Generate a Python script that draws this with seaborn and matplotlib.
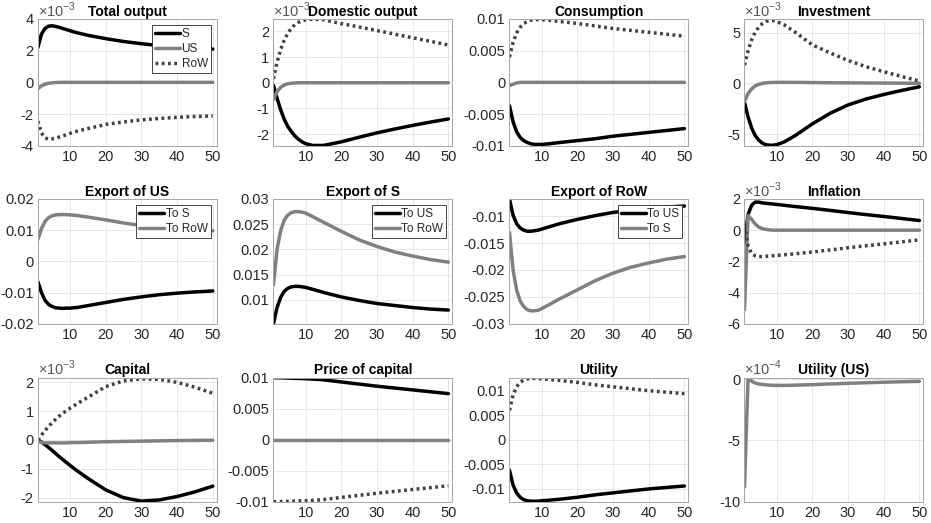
import matplotlib
matplotlib.use("Agg")
import matplotlib.pyplot as plt
import seaborn as sns
import numpy as np

# ---------------- data ----------------
T = [1, 2, 3, 4, 5, 6, 7, 8, 9, 10, 12, 15, 20, 25, 30, 35, 40, 45, 50]

# Total output (x1e-3)
tot_S = [2.2, 3.05, 3.4, 3.55, 3.57, 3.53, 3.47, 3.4, 3.33, 3.26, 3.13, 2.97, 2.76, 2.58, 2.44, 2.32, 2.22, 2.15, 2.1]
tot_US = [-0.4, -0.22, -0.12, -0.06, -0.03, -0.01, 0, 0, 0, 0, 0, 0, 0, 0, 0, 0, 0, 0, 0]
tot_RoW = [-2.45, -3.2, -3.5, -3.6, -3.57, -3.52, -3.45, -3.38, -3.3, -3.22, -3.08, -2.92, -2.66, -2.5, -2.37, -2.28, -2.21, -2.16, -2.12]

# Domestic output (x1e-3)
dom_S = [-0.1, -0.6, -1.05, -1.42, -1.7, -1.9, -2.07, -2.2, -2.3, -2.37, -2.44, -2.44, -2.3, -2.12, -1.95, -1.8, -1.66, -1.53, -1.41]
dom_US = [-0.65, -0.35, -0.18, -0.09, -0.04, -0.02, -0.01, 0, 0, 0, 0, 0, 0, 0, 0, 0, 0, 0, 0]
dom_RoW = [0.15, 0.8, 1.28, 1.65, 1.92, 2.12, 2.26, 2.35, 2.41, 2.45, 2.47, 2.45, 2.3, 2.17, 2.03, 1.89, 1.75, 1.61, 1.47]

# Consumption
con_S = [-0.0037, -0.0062, -0.0078, -0.0087, -0.0092, -0.0095, -0.0097, -0.0098, -0.0098, -0.0098, -0.0097, -0.0095, -0.0092, -0.0089, -0.0085, -0.0082, -0.0079, -0.0076, -0.0073]
con_US = [-0.0005, -0.0003, -0.0001, 0, 0, 0, 0, 0, 0, 0, 0, 0, 0, 0, 0, 0, 0, 0, 0]
con_RoW = [0.004, 0.0063, 0.0078, 0.0087, 0.0093, 0.0096, 0.0098, 0.0099, 0.0099, 0.0099, 0.0098, 0.0096, 0.0093, 0.0089, 0.0085, 0.0082, 0.0079, 0.0076, 0.0073]

# Investment (x1e-3)
inv_S = [-1.9, -3.3, -4.4, -5.15, -5.6, -5.9, -6.05, -6.1, -6.1, -6.05, -5.8, -5.2, -4.0, -2.95, -2.13, -1.55, -1.1, -0.7, -0.34]
inv_US = [-1.8, -1.0, -0.55, -0.25, -0.1, 0.0, 0.05, 0.08, 0.09, 0.1, 0.1, 0.1, 0.08, 0.06, 0.05, 0.04, 0.03, 0.02, 0.01]
inv_RoW = [1.8, 3.2, 4.3, 5.05, 5.55, 5.9, 6.1, 6.2, 6.2, 6.1, 5.8, 5.1, 3.8, 3.0, 2.26, 1.65, 1.15, 0.68, 0.24]

# Export of US
exUS_toS = [-0.0065, -0.010, -0.0125, -0.0138, -0.0145, -0.0149, -0.015, -0.0151, -0.015, -0.015, -0.0148, -0.0142, -0.0132, -0.0122, -0.0114, -0.0107, -0.0102, -0.0098, -0.0095]
exUS_toRoW = [0.007, 0.0105, 0.0128, 0.014, 0.0146, 0.0149, 0.015, 0.015, 0.015, 0.0149, 0.0147, 0.0142, 0.0133, 0.0123, 0.0115, 0.0108, 0.0104, 0.0101, 0.0098]

# Export of S
exS_toUS = [0.0053, 0.0085, 0.0105, 0.0117, 0.0123, 0.0126, 0.0127, 0.0127, 0.0126, 0.0125, 0.0121, 0.0115, 0.0106, 0.0099, 0.0093, 0.0089, 0.0085, 0.0082, 0.008]
exS_toRoW = [0.013, 0.020, 0.0237, 0.0258, 0.0268, 0.0273, 0.0275, 0.0275, 0.0274, 0.0272, 0.0265, 0.0254, 0.0236, 0.0219, 0.0206, 0.0195, 0.0187, 0.018, 0.0175]

# Export of RoW
exR_toUS = [-0.0068, -0.0098, -0.0114, -0.0122, -0.0126, -0.0128, -0.0128, -0.0127, -0.0126, -0.0124, -0.012, -0.0114, -0.0106, -0.0099, -0.0093, -0.0089, -0.0086, -0.0083, -0.0081]
exR_toS = [-0.013, -0.020, -0.0237, -0.0258, -0.0268, -0.0274, -0.0276, -0.0276, -0.0275, -0.0272, -0.0265, -0.0254, -0.0237, -0.022, -0.0206, -0.0195, -0.0187, -0.018, -0.0175]

# Inflation (x1e-3)
inf_S = [-0.8, 1.0, 1.6, 1.8, 1.8, 1.75, 1.72, 1.7, 1.68, 1.65, 1.6, 1.52, 1.4, 1.27, 1.13, 1.0, 0.88, 0.75, 0.62]
inf_US = [-5.1, 0.95, 0.7, 0.4, 0.2, 0.1, 0.05, 0.02, 0, 0, 0, 0, 0, 0, 0, 0, 0, 0, 0]
inf_RoW = [0.3, -1.0, -1.5, -1.65, -1.7, -1.7, -1.68, -1.66, -1.64, -1.62, -1.58, -1.52, -1.4, -1.27, -1.13, -1.0, -0.88, -0.75, -0.62]

# Capital (x1e-3)
cap_S = [0.0, -0.07, -0.16, -0.26, -0.36, -0.47, -0.58, -0.68, -0.78, -0.88, -1.07, -1.33, -1.73, -2.0, -2.12, -2.08, -1.96, -1.8, -1.6]
cap_US = [-0.05, -0.08, -0.1, -0.1, -0.1, -0.1, -0.1, -0.1, -0.1, -0.09, -0.09, -0.08, -0.06, -0.05, -0.04, -0.03, -0.02, -0.015, -0.01]
cap_RoW = [0.0, 0.17, 0.33, 0.47, 0.6, 0.72, 0.83, 0.93, 1.02, 1.1, 1.26, 1.48, 1.85, 2.05, 2.12, 2.1, 2.0, 1.83, 1.62]

# Price of capital
pk_S = [0.01, 0.00999, 0.00998, 0.00996, 0.00994, 0.00992, 0.0099, 0.00988, 0.00986, 0.00984, 0.00978, 0.00966, 0.00931, 0.00897, 0.00863, 0.00833, 0.00803, 0.00773, 0.00743]
pk_US = [0] * 19
pk_RoW = [-0.01, -0.00999, -0.00998, -0.00996, -0.00994, -0.00992, -0.0099, -0.00988, -0.00986, -0.00984, -0.00978, -0.00966, -0.00931, -0.00897, -0.00863, -0.00833, -0.00803, -0.00773, -0.00743]

# Utility
ut_S = [-0.0062, -0.0092, -0.0108, -0.0117, -0.0122, -0.0124, -0.0125, -0.0125, -0.0125, -0.0124, -0.0123, -0.0121, -0.0117, -0.0112, -0.0108, -0.0104, -0.01, -0.0097, -0.0094]
ut_RoW = [0.006, 0.0091, 0.0108, 0.0117, 0.0122, 0.0124, 0.0125, 0.0125, 0.0125, 0.0124, 0.0123, 0.0121, 0.0117, 0.0112, 0.0108, 0.0104, 0.01, 0.0097, 0.0094]

# Utility (US) (x1e-4)
utUS = [-8.8, 0.1, -0.15, -0.3, -0.38, -0.42, -0.45, -0.48, -0.49, -0.5, -0.5, -0.48, -0.44, -0.38, -0.33, -0.28, -0.24, -0.2, -0.17]

XTICKS = [10, 20, 30, 40, 50]

# ---------------- style ----------------
sns.set_theme(style="white")
plt.rcParams['font.family'] = ['Liberation Sans', 'DejaVu Sans']
plt.rcParams['axes.unicode_minus'] = False
plt.rcParams['mathtext.fontset'] = 'custom'
plt.rcParams['mathtext.rm'] = 'Liberation Sans'

STY = {
    'S': dict(color='#000000', lw=2.5, linestyle='-'),
    'US': dict(color='#808080', lw=2.5, linestyle='-'),
    'RoW': dict(color='#404040', lw=2.5, linestyle=(0, (0.8, 1.0))),
    'G': dict(color='#808080', lw=2.5, linestyle='-'),
}

panels = [
    dict(title='Total output', series=[(tot_S, 'S', 'S'), (tot_US, 'US', 'US'), (tot_RoW, 'RoW', 'RoW')],
         ylim=(-4, 4), yticks=[-4, -2, 0, 2, 4], exp='-3', legend=True),
    dict(title='Domestic output', series=[(dom_S, 'S', 'S'), (dom_US, 'US', 'US'), (dom_RoW, 'RoW', 'RoW')],
         ylim=(-2.45, 2.48), yticks=[-2, -1, 0, 1, 2], exp='-3'),
    dict(title='Consumption', series=[(con_S, 'S', 'S'), (con_US, 'US', 'US'), (con_RoW, 'RoW', 'RoW')],
         ylim=(-0.01, 0.01), yticks=[-0.01, -0.005, 0, 0.005, 0.01]),
    dict(title='Investment', series=[(inv_S, 'S', 'S'), (inv_US, 'US', 'US'), (inv_RoW, 'RoW', 'RoW')],
         ylim=(-6.15, 6.35), yticks=[-5, 0, 5], exp='-3'),
    dict(title='Export of US', series=[(exUS_toS, 'S', 'To S'), (exUS_toRoW, 'G', 'To RoW')],
         ylim=(-0.02, 0.02), yticks=[-0.02, -0.01, 0, 0.01, 0.02], legend=True),
    dict(title='Export of S', series=[(exS_toUS, 'S', 'To US'), (exS_toRoW, 'G', 'To RoW')],
         ylim=(0.0053, 0.03), yticks=[0.01, 0.015, 0.02, 0.025, 0.03], legend=True),
    dict(title='Export of RoW', series=[(exR_toUS, 'S', 'To US'), (exR_toS, 'G', 'To S')],
         ylim=(-0.03, -0.0068), yticks=[-0.03, -0.025, -0.02, -0.015, -0.01], legend=True),
    dict(title='Inflation', series=[(inf_S, 'S', 'S'), (inf_US, 'US', 'US'), (inf_RoW, 'RoW', 'RoW')],
         ylim=(-6, 2), yticks=[-6, -4, -2, 0, 2], exp='-3'),
    dict(title='Capital', series=[(cap_S, 'S', 'S'), (cap_US, 'US', 'US'), (cap_RoW, 'RoW', 'RoW')],
         ylim=(-2.14, 2.16), yticks=[-2, -1, 0, 1, 2], exp='-3'),
    dict(title='Price of capital', series=[(pk_S, 'S', 'S'), (pk_US, 'US', 'US'), (pk_RoW, 'RoW', 'RoW')],
         ylim=(-0.01, 0.01), yticks=[-0.01, -0.005, 0, 0.005, 0.01]),
    dict(title='Utility', series=[(ut_S, 'S', 'S'), (ut_RoW, 'RoW', 'RoW')],
         ylim=(-0.0126, 0.01265), yticks=[-0.01, -0.005, 0, 0.005, 0.01]),
    dict(title='Utility (US)', series=[(utUS, 'G', 'US')],
         ylim=(-10, 0.13), yticks=[-10, -5, 0], exp='-4'),
]

W, H = 931, 523
fig = plt.figure(figsize=(W / 100, H / 100), dpi=100)
col_left = [37.7, 273.3, 509.3, 744.3]
row_top = [19, 199, 377.7]
row_h = [126.7, 124.7, 124]
ax_w = 179

TICK_C = '#262626'
for i, p in enumerate(panels):
    r, c = divmod(i, 4)
    l = col_left[c] / W
    b = 1 - (row_top[r] + row_h[r]) / H
    ax = fig.add_axes([l, b, ax_w / W, row_h[r] / H])
    for vals, key, lab in p['series']:
        sns.lineplot(x=T, y=vals, ax=ax, label=lab, **STY[key])
    ax.set_xlim(0.95, 51.1)
    ax.set_ylim(*p['ylim'])
    ax.set_xticks(XTICKS)
    ax.set_xticklabels([str(t) for t in XTICKS])
    ax.set_yticks(p['yticks'])
    ax.set_yticklabels(['{:g}'.format(v) for v in p['yticks']])
    ax.tick_params(direction='in', length=2.5, width=0.5, colors='#999999',
                   labelcolor=TICK_C, labelsize=10.5, pad=3)
    ax.grid(True, color='#e3e3e3', lw=0.6)
    for sp in ax.spines.values():
        sp.set_color('#a6a6a6')
        sp.set_linewidth(0.7)
    ax.set_xlabel('')
    ax.set_ylabel('')
    ax.set_title(p['title'], fontsize=10, fontweight='bold', pad=2.5, color='#000000')
    if 'exp' in p:
        ax.text(0.0, 0.995, r'$\times$10$^{' + p['exp'] + '}$', transform=ax.transAxes,
                fontsize=10.5, color='#555555', ha='left', va='bottom')
    if p.get('legend'):
        leg = ax.legend(loc='upper right', fontsize=8.5, frameon=True, fancybox=False,
                        framealpha=1, edgecolor='#262626', handlelength=2.1,
                        handletextpad=0.15, labelspacing=0.25, borderpad=0.25,
                        borderaxespad=0.5)
        leg.get_frame().set_linewidth(0.6)
    else:
        lg = ax.get_legend()
        if lg is not None:
            lg.remove()

fig.savefig('out.png', dpi=100)
